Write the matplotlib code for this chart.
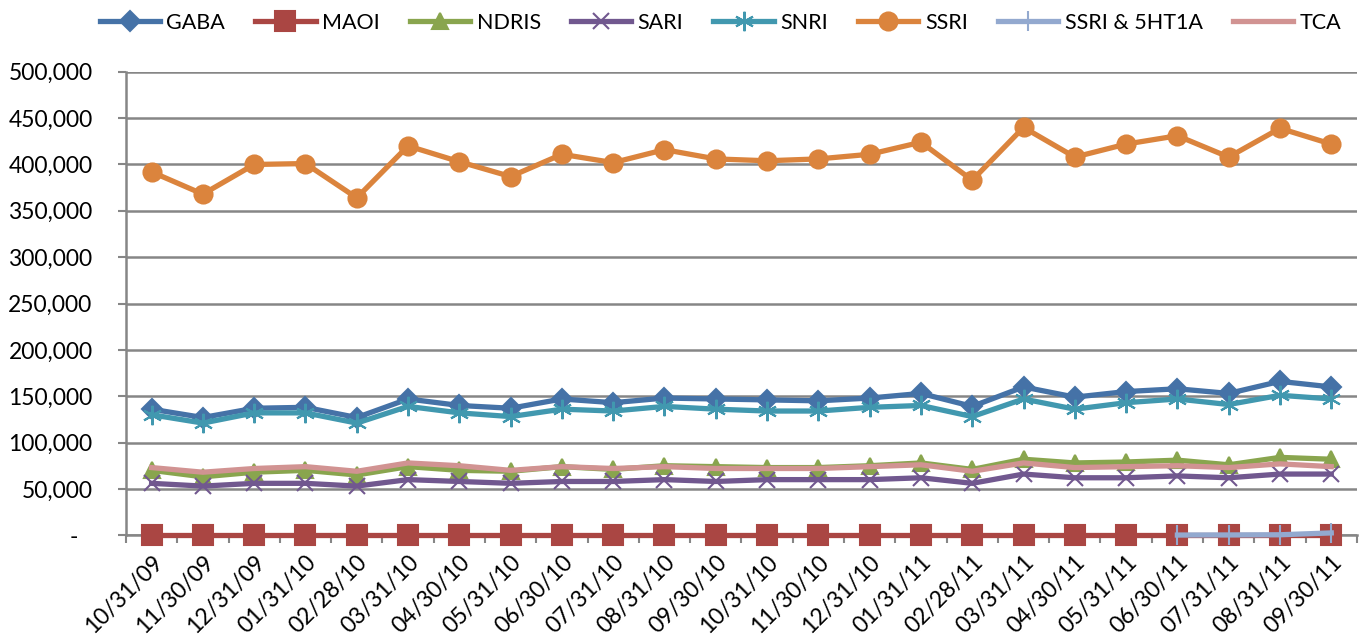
import matplotlib.pyplot as plt
import numpy as np
from matplotlib.ticker import FuncFormatter

dates = ['10/31/09', '11/30/09', '12/31/09', '01/31/10', '02/28/10', '03/31/10',
         '04/30/10', '05/31/10', '06/30/10', '07/31/10', '08/31/10', '09/30/10',
         '10/31/10', '11/30/10', '12/31/10', '01/31/11', '02/28/11', '03/31/11',
         '04/30/11', '05/31/11', '06/30/11', '07/31/11', '08/31/11', '09/30/11']

gaba = [136, 127, 137, 138, 127, 147, 140, 137, 147, 143, 148, 147,
        146, 145, 148, 153, 139, 160, 149, 155, 158, 153, 166, 160]
maoi = [0.3] * 24
ndris = [70, 63, 68, 70, 65, 74, 70, 69, 74, 71, 75, 74,
         73, 73, 75, 78, 71, 82, 78, 79, 81, 76, 84, 82]
sari = [56, 53, 56, 56, 53, 60, 58, 56, 58, 58, 60, 58,
        60, 60, 60, 62, 56, 66, 62, 62, 64, 62, 66, 66]
snri = [130, 121, 132, 132, 121, 139, 132, 128, 136, 134, 139, 136,
        134, 134, 138, 140, 128, 147, 136, 143, 147, 141, 151, 147]
ssri = [392, 368, 400, 401, 364, 420, 403, 387, 411, 402, 416, 406,
        404, 406, 411, 424, 383, 440, 408, 422, 431, 408, 439, 422]
ssri_5ht1a = [np.nan] * 20 + [0.2, 0.3, 0.5, 2.5]
tca = [73, 68, 72, 74, 69, 78, 75, 70, 74, 72, 74, 72,
       72, 72, 74, 76, 69, 78, 73, 74, 75, 73, 77, 74]

series = [
    ('GABA', gaba, '#4572A7', 'D', 10),
    ('MAOI', maoi, '#AA4643', 's', 14),
    ('NDRIS', ndris, '#89A54E', '^', 12),
    ('SARI', sari, '#71588F', 'x', 12),
    ('SNRI', snri, '#4198AF', (6, 2, 0), 14),
    ('SSRI', ssri, '#DB843D', 'o', 13),
    ('SSRI & 5HT1A', ssri_5ht1a, '#93A9CF', '|', 14),
    ('TCA', tca, '#D19392', None, 0),
]

plt.rcParams['font.family'] = ['Lato', 'DejaVu Sans']

fig = plt.figure(figsize=(13.72, 6.41), dpi=100)
ax = fig.add_axes([0.0918, 0.165, 0.8972, 0.723])

x = np.arange(len(dates))
for name, vals, col, mk, ms in series:
    y = np.array(vals, dtype=float) * 1000
    ax.plot(x, y, color=col, lw=3.8, marker=mk, markersize=ms, zorder=3,
            markeredgewidth=1.5, markeredgecolor=col, label=name, clip_on=False)

ax.set_xlim(-0.5, len(dates) - 0.5)
ax.set_ylim(0, 500000)
ax.set_yticks(np.arange(0, 500001, 50000))
ax.yaxis.set_major_formatter(FuncFormatter(lambda v, p: '-' if v == 0 else '{:,.0f}'.format(v)))
ax.yaxis.grid(True, color='#868686', lw=1.8)
ax.set_axisbelow(True)
# push the zero dash a bit to the left, like the accounting format
ax.get_yticklabels()[0].set_x(-0.012)

ax.set_xticks(x)
ax.set_xticklabels(dates, rotation=45, ha='right', rotation_mode='anchor')
ax.set_xticks(np.arange(-0.5, len(dates)), minor=True)
ax.tick_params(axis='x', which='major', length=0, labelsize=16.5, pad=12)
ax.tick_params(axis='x', which='minor', length=6, color='#868686', width=1.5, direction='out')
ax.tick_params(axis='y', length=6, color='#868686', width=1.5, labelsize=16.5, pad=18)

for s in ['top', 'right']:
    ax.spines[s].set_visible(False)
for s in ['left', 'bottom']:
    ax.spines[s].set_color('#868686')
    ax.spines[s].set_linewidth(1.8)

fig.legend(loc='upper center', bbox_to_anchor=(0.525, 1.01), ncol=8, frameon=False,
           fontsize=15.5, handlelength=2.8, columnspacing=1.4, handletextpad=0.3)

plt.savefig('out.png', dpi=100)
